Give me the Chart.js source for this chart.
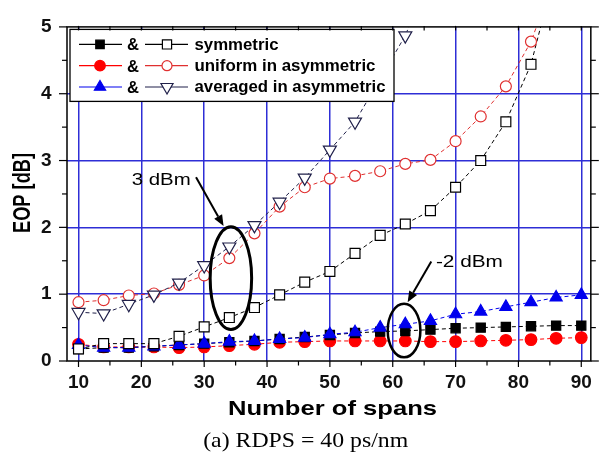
<!DOCTYPE html>
<html><head><meta charset="utf-8">
<script src="https://cdn.jsdelivr.net/npm/chart.js@4.4.1/dist/chart.umd.min.js"></script>
<style>html,body{margin:0;padding:0;background:#fff}#wrap{width:602px;height:455px;position:relative}</style>
</head><body><div id="wrap"><canvas id="c"></canvas></div>
<script>
// ---------- data ----------
const spans = [10,14,18,22,26,30,34,38,42,46,50,54,58,62,66,70,74,78,82,86,90];
const symmetricLow   = [0.18,0.20,0.20,0.22,0.24,0.26,0.28,0.30,0.33,0.36,0.39,0.42,0.44,0.45,0.47,0.49,0.50,0.51,0.52,0.53,0.53];
const symmetricHigh  = [0.18,0.26,0.26,0.26,0.37,0.51,0.65,0.80,0.99,1.18,1.34,1.61,1.88,2.05,2.25,2.60,3.00,3.58,4.44,5.90,null];
const uniformLow     = [0.25,0.21,0.21,0.21,0.20,0.21,0.23,0.25,0.28,0.29,0.30,0.30,0.30,0.30,0.29,0.29,0.30,0.31,0.32,0.34,0.35];
const uniformHigh    = [0.88,0.91,0.98,1.01,1.14,1.28,1.54,1.91,2.31,2.60,2.73,2.77,2.84,2.95,3.01,3.29,3.66,4.11,4.78,5.80,null];
const averagedLow    = [0.24,0.20,0.20,0.22,0.24,0.26,0.29,0.30,0.33,0.35,0.40,0.43,0.50,0.55,0.60,0.70,0.74,0.81,0.88,0.95,0.99];
const averagedHigh   = [0.73,0.71,0.85,0.99,1.17,1.43,1.71,2.03,2.38,2.74,3.16,3.58,null,4.87,5.80,null,null,null,null,null,null];
const seriesNames = ['symmetric','uniform in asymmetric','averaged in asymmetric'];
const xTickLabels = [10,20,30,40,50,60,70,80,90];
const yTickLabels = [0,1,2,3,4,5];
const xTitle = 'Number of spans';
const yTitle = 'EOP [dB]';
const caption = '(a) RDPS = 40 ps/nm';
const noteTexts = ['3 dBm','-2 dBm'];

// ---------- annotation placement (data units) ----------
const annot = {
  notes: [{x:18.46, y:2.63, w:59}, {x:66.87, y:1.41, w:67}],
  ellipses: [{x:34.25, y:1.24, rx:3.3, ry:0.77, lw:3}, {x:61.8, y:0.455, rx:2.6, ry:0.40, lw:2.5}],
  arrows: [{x1:28.7, y1:2.75, x2:33.08, y2:2.02}, {x1:66.13, y1:1.49, x2:62.37, y2:0.88}]
};

const BLUE = '#0000ee', RED = '#ff0000', BLACK = '#000000', NAVY = '#20204a';
const GRID = '#2e2ed6';
const styles = [
  {color:BLACK, line:BLACK, style:'rect', r:6.5, rot:0},
  {color:RED, line:RED, style:'circle', r:5.8, rot:0},
  {color:BLUE, line:BLUE, style:'triangle', r:7, rot:0}
];
const openStyles = [
  {color:BLACK, line:BLACK, style:'rect', r:7, rot:0},
  {color:'#e03030', line:'#e03030', style:'circle', r:5.5, rot:0},
  {color:NAVY, line:NAVY, style:'triangle', r:7.5, rot:180}
];

function ds(label, values, st, filled, order){
  return {
    label, order,
    data: spans.map((x,i)=>({x, y: values[i]})),
    borderColor: st.line, borderWidth: 1, borderDash: [4,3],
    pointStyle: st.style, pointRadius: st.r, pointHoverRadius: st.r, pointRotation: st.rot,
    pointBackgroundColor: filled ? st.color : '#ffffff',
    pointBorderColor: st.color, pointBorderWidth: 1.2,
    fill: false, tension: 0, spanGaps: true
  };
}

function fitText(ctx, text, x, y, font, width, align, color){
  ctx.save();
  ctx.font = font;
  ctx.fillStyle = color || '#000';
  const w = ctx.measureText(text).width;
  ctx.translate(x, y);
  ctx.scale(width / w, 1);
  ctx.textAlign = align;
  ctx.textBaseline = 'alphabetic';
  ctx.fillText(text, 0, 0);
  ctx.restore();
}

const deco = {
  id: 'deco',
  afterDatasetsDraw(chart){
    const ctx = chart.ctx, a = chart.chartArea;
    const xs = chart.scales.x, ys = chart.scales.y;
    ctx.save();
    ctx.strokeStyle = '#000';
    annot.ellipses.forEach(e=>{
      const cx = xs.getPixelForValue(e.x), cy = ys.getPixelForValue(e.y);
      const rx = Math.abs(xs.getPixelForValue(e.x+e.rx)-cx), ry = Math.abs(ys.getPixelForValue(e.y+e.ry)-cy);
      ctx.lineWidth = e.lw;
      ctx.beginPath(); ctx.ellipse(cx, cy, rx, ry, 0, 0, Math.PI*2); ctx.stroke();
    });
    annot.arrows.forEach(r=>{
      const x1 = xs.getPixelForValue(r.x1), y1 = ys.getPixelForValue(r.y1);
      const x2 = xs.getPixelForValue(r.x2), y2 = ys.getPixelForValue(r.y2);
      const ang = Math.atan2(y2-y1, x2-x1), L = 11, W = 4.5;
      const bx = x2 - L*Math.cos(ang), by = y2 - L*Math.sin(ang);
      ctx.lineWidth = 2; ctx.fillStyle = '#000';
      ctx.beginPath(); ctx.moveTo(x1,y1); ctx.lineTo(bx,by); ctx.stroke();
      ctx.beginPath(); ctx.moveTo(x2,y2);
      ctx.lineTo(bx + W*Math.sin(ang), by - W*Math.cos(ang));
      ctx.lineTo(bx - W*Math.sin(ang), by + W*Math.cos(ang));
      ctx.closePath(); ctx.fill();
    });
    annot.notes.forEach((n,i)=>{
      fitText(ctx, noteTexts[i], xs.getPixelForValue(n.x), ys.getPixelForValue(n.y), '17px "Liberation Sans"', n.w, 'left');
    });

    // legend box
    const lx = a.left + 3, ly = a.top + 2.5, lw = 324, lh = 72;
    ctx.fillStyle = '#fff'; ctx.fillRect(lx, ly, lw, lh);
    ctx.strokeStyle = '#000'; ctx.lineWidth = 1.3; ctx.strokeRect(lx, ly, lw, lh);
    const rowY = [ly+15, ly+36.3, ly+57.6];
    const textW = [84, 181, 191];
    seriesNames.forEach((name,i)=>{
      const y = rowY[i];
      const f = styles[i], o = openStyles[i];
      ctx.setLineDash([]); ctx.lineWidth = 1.2;
      ctx.strokeStyle = f.line; ctx.beginPath(); ctx.moveTo(lx+9, y); ctx.lineTo(lx+52, y); ctx.stroke();
      ctx.fillStyle = f.color; ctx.strokeStyle = f.color;
      Chart.helpers.drawPoint(ctx, {pointStyle:f.style, radius:f.r - 0.5, rotation:f.rot, borderWidth:1}, lx+30, y);
      fitText(ctx, '&', lx+63, y+6, 'bold 17px "Liberation Sans"', 12, 'center');
      ctx.lineWidth = 1.2; ctx.strokeStyle = o.line;
      ctx.beginPath(); ctx.moveTo(lx+75, y); ctx.lineTo(lx+118, y); ctx.stroke();
      ctx.fillStyle = '#fff'; ctx.strokeStyle = o.color;
      Chart.helpers.drawPoint(ctx, {pointStyle:o.style, radius:o.r-0.5, rotation:o.rot, borderWidth:1.2}, lx+97, y);
      fitText(ctx, name, lx+124.5, y+5.2, 'bold 17px "Liberation Sans"', textW[i], 'left');
    });

    // frame
    ctx.strokeStyle = '#000'; ctx.lineWidth = 1.5; ctx.setLineDash([]);
    ctx.strokeRect(a.left, a.top, a.right-a.left, a.bottom-a.top);
    ctx.lineWidth = 1.2;
    for (let v = 10; v <= 90; v += 5){
      const px = xs.getPixelForValue(v), major = v % 10 === 0;
      const L = major ? 6 : 4.5;
      ctx.beginPath(); ctx.moveTo(px, a.bottom); ctx.lineTo(px, a.bottom + L); ctx.stroke();
      ctx.beginPath(); ctx.moveTo(px, a.top - 1); ctx.lineTo(px, a.top + 3.5); ctx.stroke();
    }
    for (let v = 0; v <= 5.001; v += 0.5){
      const py = ys.getPixelForValue(v), major = Math.abs(v - Math.round(v)) < 1e-6;
      const L = major ? 8 : 5;
      ctx.beginPath(); ctx.moveTo(a.left - L, py); ctx.lineTo(a.left, py); ctx.stroke();
      ctx.beginPath(); ctx.moveTo(a.right, py); ctx.lineTo(a.right + L, py); ctx.stroke();
    }
    ctx.restore();
  },
  afterDraw(chart){
    const ctx = chart.ctx;
    fitText(ctx, xTitle, 332.5, 415, 'bold 21px "Liberation Sans"', 209, 'center');
    ctx.save();
    ctx.translate(30, 193); ctx.rotate(-Math.PI/2);
    fitText(ctx, yTitle, 0, 0, 'bold 23px "Liberation Sans"', 80, 'center');
    ctx.restore();
    fitText(ctx, caption, 305.7, 447, '21px "Liberation Serif"', 205, 'center');
  }
};

new Chart(document.getElementById('c'), {
  type: 'line',
  data: { datasets: [
    ds('averaged high', averagedHigh, openStyles[2], false, 1),
    ds('uniform high', uniformHigh, openStyles[1], false, 2),
    ds('symmetric high', symmetricHigh, openStyles[0], false, 3),
    ds('averaged low', averagedLow, styles[2], true, 4),
    ds('symmetric low', symmetricLow, styles[0], true, 5),
    ds('uniform low', uniformLow, styles[1], true, 6)
  ]},
  options: {
    responsive: true, maintainAspectRatio: false, animation: false,
    layout: { padding: { top: 15, right: 3, left: 0, bottom: 0 } },
    plugins: { legend: { display: false }, tooltip: { enabled: false } },
    scales: {
      x: {
        type: 'linear', min: 8.17, max: 91.52,
        afterBuildTicks: s => { s.ticks = xTickLabels.map(v => ({value: v})); },
        afterFit: s => { s.height = 94; },
        grid: { color: GRID, lineWidth: 1.5, drawTicks: false },
        border: { display: false },
        ticks: { padding: 10, color: '#111', font: { family: 'Liberation Sans', weight: 'bold', size: 19 }, maxRotation: 0, autoSkip: false }
      },
      y: {
        type: 'linear', min: 0, max: 5,
        afterBuildTicks: s => { s.ticks = yTickLabels.map(v => ({value: v})); },
        afterFit: s => { s.width = 67; },
        grid: { color: c => (c.tick && (c.tick.value === 0 || c.tick.value === 5)) ? 'rgba(0,0,0,0)' : GRID, lineWidth: 1.5, drawTicks: false },
        border: { display: false },
        ticks: { padding: 15.5, color: '#111', font: { family: 'Liberation Sans', weight: 'bold', size: 19 } }
      }
    }
  },
  plugins: [deco]
});
</script></body></html>
